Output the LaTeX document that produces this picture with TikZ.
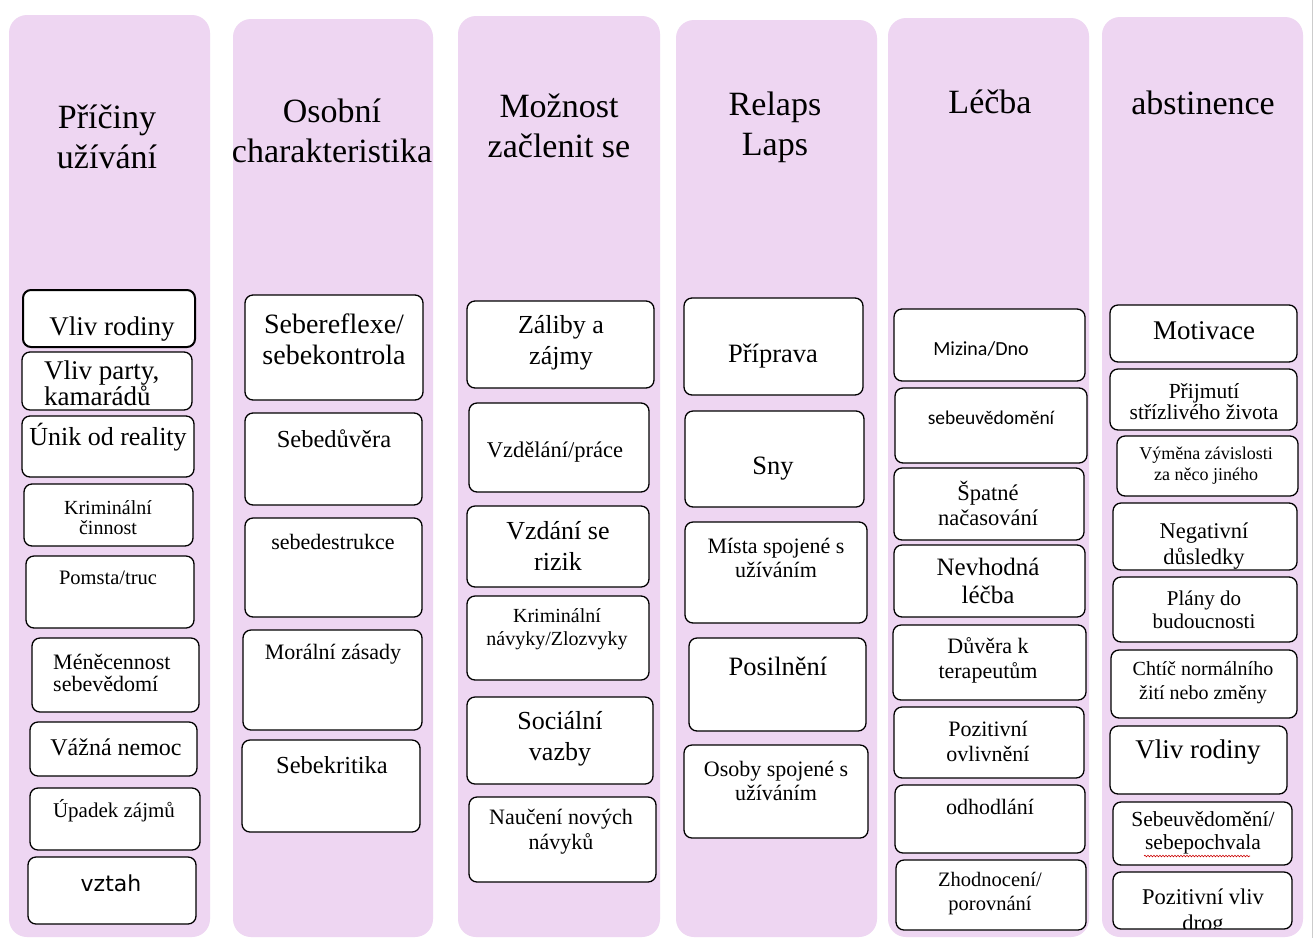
\documentclass[tikz,border=0pt]{standalone}
\usepackage{fontspec}
\setmainfont{Liberation Serif}
\newfontfamily\carl{Carlito}
\newfontfamily\djv{DejaVu Sans}
\usetikzlibrary{fit,decorations.pathmorphing}
\definecolor{colbg}{RGB}{238,214,242}
\newcommand\fz[2]{\fontsize{#1}{#2}\selectfont}
\newcommand\bx[5]{\node[box, fit={(#2,#3) (#4,#5)}] (#1) {};}
\newcommand\cl[5]{\node[colbox, fit={(#2,#3) (#4,#5)}] (#1) {};}
\begin{document}
\begin{tikzpicture}[x=1pt,y=-1pt,
  colbox/.style={fill=colbg, draw=none, rounded corners=18pt, inner sep=0pt},
  box/.style={draw=black, fill=white, line width=1.3pt, rounded corners=8pt, inner sep=0pt},
  lbl/.style={inner sep=0pt, align=center, text=black},
  lbll/.style={inner sep=0pt, align=left, anchor=west, text=black},
  ttl/.style={inner sep=0pt, align=center, text=black, font=\fz{34}{40}}]
\useasboundingbox (0,0) rectangle (1316,938);
\fill[white] (0,0) rectangle (1316,938);
\draw[black!20, line width=1pt] (1312,0) -- (1312,938);
% columns
\cl{col1}{9}{15}{210}{937}
\cl{col2}{233}{19}{433}{937}
\cl{col3}{458}{16}{660}{937}
\cl{col4}{676}{20}{877}{937}
\cl{col5}{888}{18}{1089}{937}
\cl{col6}{1102}{17}{1303}{937}
% titles
\node[ttl] (t1) at (107,137) {Příčiny\\užívání};
\node[ttl] (t2) at (332,131) {Osobní\\charakteristika};
\node[ttl] (t3) at (559,126) {Možnost\\začlenit se};
\node[ttl] (t4) at (775,127) {Relaps\\Laps};
\node[ttl] (t5) at (990,102) {Léčba};
\node[ttl] (t6) at (1203,103) {abstinence};
% column 1
\node[box, line width=2pt, fit={(23,290) (195,347)}] (b11) {};
\node[lbl, font=\fz{27}{30}] (l11) at (112,329) {Vliv rodiny};
\bx{b12}{22}{352}{192}{410}
\node[lbll, font=\fz{27}{23}] (l12) at (44,383) {Vliv party,\\kamarádů};
\bx{b13}{22}{416}{194}{477}
\node[lbl, font=\fz{26}{28}] (l13) at (108,437) {Únik od reality};
\bx{b14}{24}{484}{193}{546}
\node[lbl, font=\fz{20}{20}] (l14) at (108,518) {Kriminální\\činnost};
\bx{b15}{26}{556}{194}{628}
\node[lbl, font=\fz{20.5}{22}] (l15) at (108,578) {Pomsta/truc};
\bx{b16}{32}{638}{199}{712}
\node[lbll, font=\fz{22}{22}] (l16) at (53,673) {Méněcennost\\sebevědomí};
\bx{b17}{30}{722}{197}{776}
\node[lbl, font=\fz{24}{26}] (l17) at (116,747) {Vážná nemoc};
\bx{b18}{30}{788}{200}{850}
\node[lbl, font=\fz{21}{24}] (l18) at (114,811) {Úpadek zájmů};
\bx{b19}{28}{857}{196}{924}
\node[lbl, font=\djv\fz{22}{24}] (l19) at (111,883) {vztah};
% column 2
\bx{b21}{245}{295}{423}{400}
\node[lbl, font=\fz{28}{31}] (l21) at (334,339) {Sebereflexe/\\sebekontrola};
\bx{b22}{245}{413}{422}{505}
\node[lbl, font=\fz{24.5}{27}] (l22) at (334,439) {Sebedůvěra};
\bx{b23}{245}{518}{422}{617}
\node[lbl, font=\fz{22}{24}] (l23) at (333,542) {sebedestrukce};
\bx{b24}{243}{630}{422}{730}
\node[lbl, font=\fz{22}{24}] (l24) at (333,654) {Morální zásady};
\bx{b25}{242}{740}{420}{832}
\node[lbl, font=\fz{24.5}{27}] (l25) at (332,765) {Sebekritika};
% column 3
\bx{b31}{467}{301}{654}{388}
\node[lbl, font=\fz{26}{31}] (l31) at (561,343) {Záliby a\\zájmy};
\bx{b32}{469}{403}{649}{492}
\node[lbl, font=\fz{22.5}{25}] (l32) at (555,452) {Vzdělání/práce};
\bx{b33}{467}{506}{649}{587}
\node[lbl, font=\fz{26}{31}] (l33) at (558,546) {Vzdání se\\rizik};
\bx{b34}{467}{596}{649}{680}
\node[lbl, font=\fz{20}{23}] (l34) at (557,629) {Kriminální\\návyky/Zlozvyky};
\bx{b35}{467}{697}{653}{784}
\node[lbl, font=\fz{26}{31}] (l35) at (560,739) {Sociální\\vazby};
\bx{b36}{469}{797}{656}{882}
\node[lbl, font=\fz{22}{25}] (l36) at (561,832) {Naučení nových\\návyků};
% column 4
\bx{b41}{684}{298}{863}{395}
\node[lbl, font=\fz{26.5}{28}] (l41) at (773,356) {Příprava};
\bx{b42}{685}{411}{864}{507}
\node[lbl, font=\fz{26.5}{28}] (l42) at (773,469) {Sny};
\bx{b43}{685}{522}{867}{623}
\node[lbl, font=\fz{22}{24}] (l43) at (776,558) {Místa spojené s\\užíváním};
\bx{b44}{689}{638}{866}{731}
\node[lbl, font=\fz{26.5}{28}] (l44) at (778,666) {Posilnění};
\bx{b45}{684}{745}{868}{838}
\node[lbl, font=\fz{22}{24}] (l45) at (776,781) {Osoby spojené s\\užíváním};
% column 5
\bx{b51}{894}{309}{1085}{381}
\node[lbl, font=\carl\fz{20}{22}] (l51) at (981,349) {Mizina/Dno};
\bx{b52}{895}{388}{1087}{463}
\node[lbl, font=\carl\fz{19.5}{22}] (l52) at (991,418) {sebeuvědomění};
\bx{b53}{894}{468}{1084}{540}
\node[lbl, font=\fz{22.5}{25}] (l53) at (988,503) {Špatné\\načasování};
\bx{b54}{894}{545}{1085}{617}
\node[lbl, font=\fz{25}{28}] (l54) at (988,581) {Nevhodná\\léčba};
\bx{b55}{893}{625}{1086}{700}
\node[lbl, font=\fz{22}{25}] (l55) at (988,660) {Důvěra k\\terapeutům};
\bx{b56}{894}{707}{1084}{778}
\node[lbl, font=\fz{22}{25}] (l56) at (988,741) {Pozitivní\\ovlivnění};
\bx{b57}{895}{785}{1085}{853}
\node[lbl, font=\fz{22}{24}] (l57) at (990,807) {odhodlání};
\bx{b58}{896}{860}{1086}{930}
\node[lbl, font=\fz{20.5}{24}] (l58) at (990,894) {Zhodnocení/\\porovnání};
% column 6
\bx{b61}{1110}{305}{1297}{362}
\node[lbl, font=\fz{27}{30}] (l61) at (1204,331) {Motivace};
\bx{b62}{1110}{369}{1297}{430}
\node[lbl, font=\fz{21.5}{21}] (l62) at (1204,402) {Přijmutí\\střízlivého života};
\bx{b63}{1117}{436}{1298}{496}
\node[lbl, font=\fz{18}{21}] (l63) at (1206,466) {Výměna závislosti\\za něco jiného};
\bx{b64}{1113}{503}{1297}{570}
\begin{scope}
\clip (1114,504) rectangle (1296,569.3);
\node[lbl, font=\fz{22.5}{26}] (l64) at (1204,546) {Negativní\\důsledky};
\end{scope}
\bx{b65}{1113}{577}{1297}{642}
\node[lbl, font=\fz{21}{23}] (l65) at (1204,610) {Plány do\\budoucnosti};
\bx{b66}{1111}{650}{1297}{718}
\node[lbl, font=\fz{20}{24}] (l66) at (1203,683) {Chtíč normálního\\žití nebo změny};
\bx{b67}{1110}{726}{1287}{794}
\node[lbl, font=\fz{27}{30}] (l67) at (1198,752) {Vliv rodiny};
\bx{b68}{1113}{802}{1292}{865}
\node[lbl, font=\fz{21.5}{23}] (l68) at (1203,833) {Sebeuvědomění/\\sebepochvala};
\draw[red!80!black, line width=0.6pt, decorate, decoration={snake, segment length=3pt, amplitude=0.8pt}] (1144,856) -- (1250,856);
\bx{b69}{1113}{872}{1292}{929}
\begin{scope}
\clip (1114,873) rectangle (1291,928.3);
\node[lbl, font=\fz{22.5}{26}] (l69) at (1203,912) {Pozitivní vliv\\drog};
\end{scope}
\end{tikzpicture}
\end{document}
